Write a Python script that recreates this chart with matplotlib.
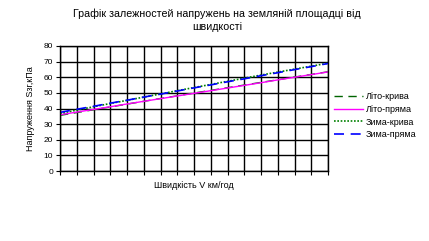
import matplotlib
matplotlib.use("Agg")
import matplotlib.pyplot as plt

speed = [0, 10, 20, 30, 40, 50, 60, 70, 80, 90, 100, 110, 120, 130, 140, 150, 160]
lito_kryva = [35.6, 37.4, 39.2, 41.0, 42.8, 44.6, 46.4, 48.1, 49.9, 51.6, 53.3, 55.0, 56.7, 58.4, 60.1, 61.8, 63.5]
lito_pryama = [36.0, 37.7, 39.4, 41.1, 42.9, 44.6, 46.3, 48.0, 49.7, 51.4, 53.1, 54.8, 56.5, 58.3, 60.0, 61.7, 63.4]
zyma_kryva = [36.8, 39.0, 41.1, 43.2, 45.2, 47.3, 49.3, 51.4, 53.4, 55.4, 57.4, 59.4, 61.4, 63.3, 65.2, 67.1, 69.0]
zyma_pryama = [37.5, 39.5, 41.4, 43.4, 45.3, 47.3, 49.2, 51.2, 53.2, 55.1, 57.1, 59.0, 61.0, 62.9, 64.9, 66.8, 68.8]
y_ticks = [0, 10, 20, 30, 40, 50, 60, 70, 80]

plt.rcParams['font.family'] = ['Liberation Sans', 'DejaVu Sans']

fig = plt.figure(figsize=(4.29, 2.41), dpi=100)
ax = fig.add_axes([60/429, 1-171/241, (328-60)/429, (171-46)/241])

ax.plot(speed, lito_kryva, color='#006400', lw=1.0, ls=(0, (6, 4)), label='Літо-крива')
ax.plot(speed, lito_pryama, color='#ff00ff', lw=1.0, ls='-', label='Літо-пряма')
ax.plot(speed, zyma_kryva, color='#008000', lw=1.2, ls=(0, (1, 1)), label='Зима-крива')
ax.plot(speed, zyma_pryama, color='#0000ff', lw=1.2, ls=(0, (6, 4)), label='Зима-пряма')

ax.set_xlim(0, 160)
ax.set_ylim(0, 80)
ax.set_xticks(speed)
ax.set_xticklabels([])
ax.set_yticks(y_ticks)
ax.set_yticklabels([str(v) for v in y_ticks], fontsize=6)
ax.tick_params(axis='both', direction='out', length=3, width=0.8, color='black', pad=2)
ax.grid(True, color='black', lw=1.0)
for s in ax.spines.values():
    s.set_color('black')
    s.set_linewidth(1.0)

ax.set_ylabel('Напруження Sзг,кПа', fontsize=6.5, labelpad=6)
ax.set_xlabel('Швидкість V км/год', fontsize=6.5, labelpad=2)

title_kw = dict(ha='center', va='center', fontsize=7.7)
fig.text(217/429, 1-14/241, 'Графік залежностей напружень на земляній площадці від', **title_kw)
fig.text(217/429, 1-27/241, 'швидкості', **title_kw)

leg = ax.legend(loc='upper left', bbox_to_anchor=(1.0, 0.68), frameon=False, fontsize=6.5,
                handlelength=3.2, handletextpad=0.25, labelspacing=0.4, borderaxespad=0.3)

fig.savefig('out.png', dpi=100)
